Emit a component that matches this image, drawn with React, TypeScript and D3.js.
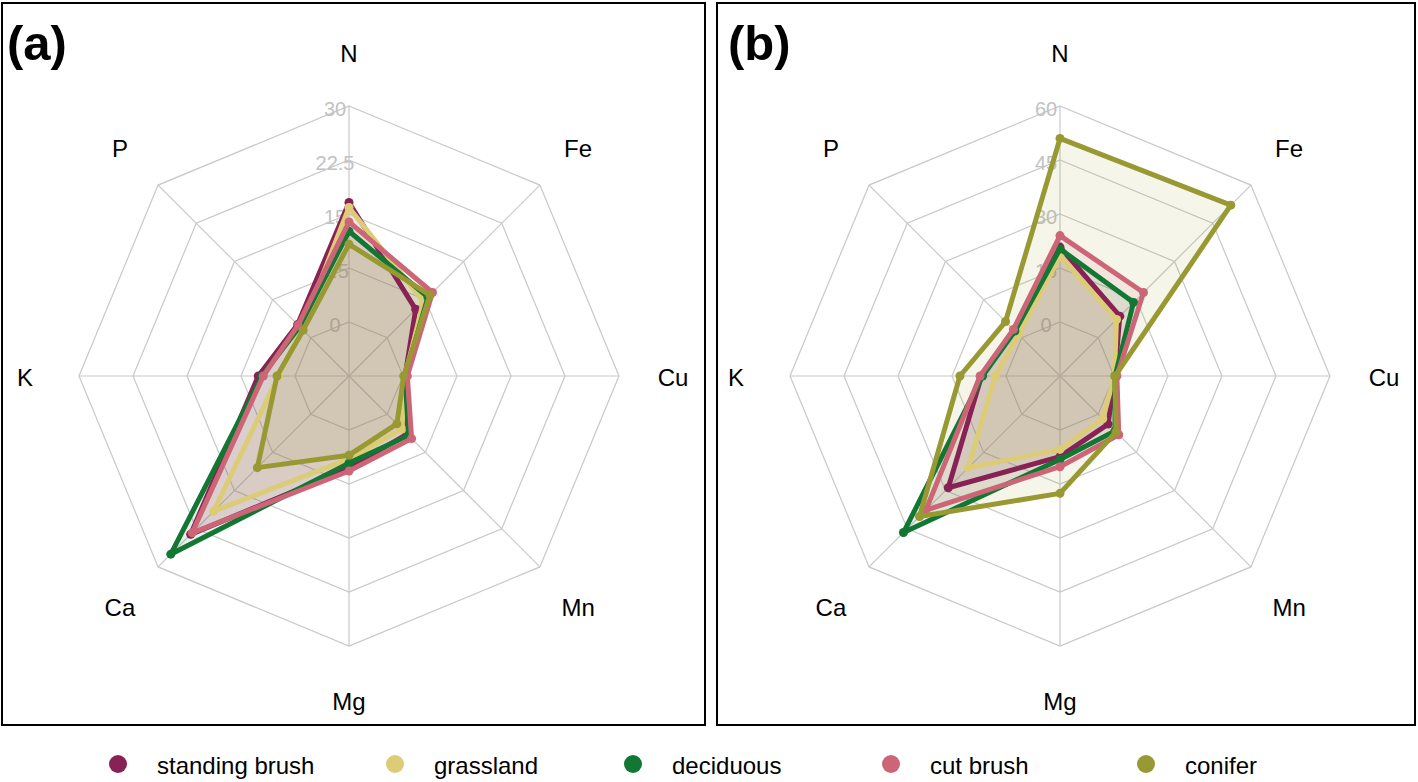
import React from "react";
import * as d3 from "d3";

const categories = ["N", "Fe", "Cu", "Mn", "Mg", "Ca", "K", "P"];
const seriesNames = ["standing brush", "grassland", "deciduous", "cut brush", "conifer"];
const seriesColors = ["#882255", "#DDCC77", "#117733", "#CC6677", "#999933"];

// Panel (a) values, axis order N, Fe, Cu, Mn, Mg, Ca, K, P
const standingBrushA = [16.6, 5.6, 0.3, 3.9, 5.3, 23.6, 5.1, 2.6];
const grasslandA = [15.9, 7.1, 0.3, 2.9, 4.0, 19.1, 2.3, 1.8];
const deciduousA = [12.6, 8.0, 0.3, 4.2, 4.6, 27.5, 4.6, 2.2];
const cutBrushA = [13.9, 8.9, 0.6, 4.8, 5.7, 23.3, 4.4, 2.5];
const coniferA = [10.8, 8.4, 0.1, 1.9, 3.5, 10.5, 2.5, 1.5];

// Panel (b) values
const standingBrushB = [20.8, 8.5, 0.2, 3.9, 7.4, 28.9, 6.8, 3.0];
const grasslandB = [18.3, 7.2, 0.1, 1.8, 5.4, 21.1, 3.0, 1.3];
const deciduousB = [20.3, 13.9, 0.3, 6.6, 8.2, 46.5, 6.5, 2.7];
const cutBrushB = [24.0, 17.8, 0.8, 8.1, 10.2, 37.7, 7.2, 3.3];
const coniferB = [51.0, 52.1, 0.3, 7.0, 17.6, 40.2, 12.8, 6.4];

const ticksA = [0, 7.5, 15, 22.5, 30];
const ticksB = [0, 15, 30, 45, 60];
const panelLabels = ["(a)", "(b)"];

const FONT = "'Liberation Sans', Arial, sans-serif";
const W = 1418;
const H = 782;
const R = 270;

type PanelProps = {
  cx: number;
  cy: number;
  ticks: number[];
  series: number[][];
  label: string;
  box: [number, number, number, number];
  labelX: number;
};

function Radar({ cx, cy, ticks, series, label, box, labelX }: PanelProps) {
  const max = ticks[ticks.length - 1];
  const r = d3.scaleLinear().domain([0, max]).range([R * 0.2, R]);
  const n = categories.length;
  const ang = d3.scaleLinear().domain([0, n]).range([0, 2 * Math.PI]);
  const line = d3
    .lineRadial<number>()
    .angle((_, i) => ang(i))
    .radius((v) => r(v))
    .curve(d3.curveLinearClosed);
  const ringLine = d3
    .lineRadial<number>()
    .angle((_, i) => ang(i))
    .radius((v) => v)
    .curve(d3.curveLinearClosed);
  const pt = (a: number, rad: number) => [rad * Math.sin(a), -rad * Math.cos(a)];

  return (
    <g>
      <rect x={box[0]} y={box[1]} width={box[2]} height={box[3]} fill="none" stroke="#000" strokeWidth={2} />
      <text x={labelX} y={60} fontFamily={FONT} fontWeight="bold" fontSize={49} fill="#000">
        {label}
      </text>
      <g transform={`translate(${cx},${cy})`}>
        {ticks.map((t) => (
          <path key={"ring" + t} d={ringLine(categories.map(() => r(t))) || ""} fill="none" stroke="#c8c8c8" strokeWidth={1.2} />
        ))}
        {categories.map((c, i) => {
          const [x, y] = pt(ang(i), R);
          return <line key={"ax" + c} x1={0} y1={0} x2={x} y2={y} stroke="#c8c8c8" strokeWidth={1.2} />;
        })}
        {ticks.map((t) => (
          <text key={"tl" + t} x={-14} y={-r(t) + 3} dy="0.35em" textAnchor="middle" fontFamily={FONT} fontSize={20} fill="#c2c2c2">
            {String(t)}
          </text>
        ))}
        {categories.map((c, i) => {
          const [x, y] = pt(ang(i), 324);
          return (
            <text key={"lab" + c} x={x} y={y + 2} dy="0.35em" textAnchor="middle" fontFamily={FONT} fontSize={24} fill="#000">
              {c}
            </text>
          );
        })}
        {series.map((vals, si) => (
          <path key={"fill" + si} d={line(vals) || ""} fill={seriesColors[si]} fillOpacity={0.1} stroke="none" />
        ))}
        {series.map((vals, si) => (
          <g key={"s" + si}>
            <path d={line(vals) || ""} fill="none" stroke={seriesColors[si]} strokeWidth={5} strokeLinejoin="round" />
            {vals.map((v, i) => {
              const [x, y] = pt(ang(i), r(v));
              return <circle key={i} cx={x} cy={y} r={4.5} fill={seriesColors[si]} />;
            })}
          </g>
        ))}
      </g>
    </g>
  );
}

const legendX = [118, 395, 633, 891, 1146];

export default function App() {
  const seriesA = [standingBrushA, grasslandA, deciduousA, cutBrushA, coniferA];
  const seriesB = [standingBrushB, grasslandB, deciduousB, cutBrushB, coniferB];
  return (
    <svg width={W} height={H} viewBox={`0 0 ${W} ${H}`} style={{ position: "absolute", left: 0, top: 0, background: "#fff" }}>
      <rect x={0} y={0} width={W} height={H} fill="#fff" />
      <Radar cx={349} cy={376} ticks={ticksA} series={seriesA} label={panelLabels[0]} box={[2, 3, 703, 722]} labelX={7} />
      <Radar cx={1060} cy={376} ticks={ticksB} series={seriesB} label={panelLabels[1]} box={[717, 3, 698, 722]} labelX={728} />
      {seriesNames.map((s, i) => (
        <g key={s}>
          <circle cx={legendX[i]} cy={764} r={9} fill={seriesColors[i]} />
          <text x={legendX[i] + 39} y={774} fontFamily={FONT} fontSize={24} fill="#000">
            {s}
          </text>
        </g>
      ))}
    </svg>
  );
}
